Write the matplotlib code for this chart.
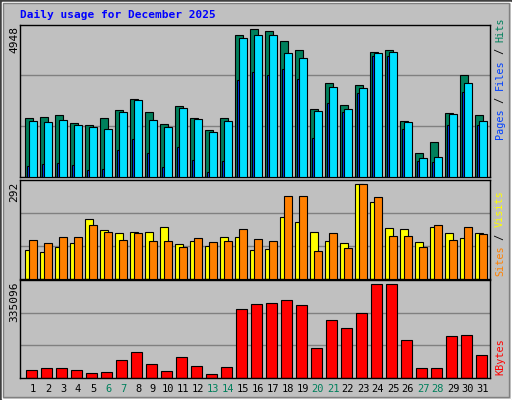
import matplotlib
matplotlib.use("Agg")
import matplotlib.pyplot as plt
from matplotlib.patches import Rectangle
import numpy as np

days = list(range(1, 32))
weekends = [6, 7, 13, 14, 20, 21, 27, 28]
hits = [1979, 2013, 2058, 1810, 1743, 1979, 2249, 2620, 2182, 1777, 2384, 1979, 1574, 1979, 4757, 4948,
        4880, 4543, 4239, 2283, 3160, 2418, 3092, 4172, 4239, 1878, 798, 1169, 2148, 3430, 2080]
files = [1878, 1844, 1912, 1743, 1676, 1608, 2182, 2586, 1912, 1676, 2316, 1945, 1507, 1878, 4644, 4745,
         4745, 4138, 3970, 2215, 3025, 2283, 2991, 4138, 4172, 1844, 630, 663, 2114, 3160, 1878]
pages = [360, 427, 461, 394, 225, 259, 900, 1271, 798, 326, 1001, 562, 157, 529, 3261, 3531,
         3430, 3632, 3295, 1304, 2485, 2182, 2823, 4037, 4037, 1608, 529, 495, 1743, 2856, 1743]
visits = [88, 82, 98, 110, 184, 149, 142, 145, 145, 161, 107, 117, 101, 130, 130, 88,
          91, 190, 174, 145, 117, 110, 292, 238, 155, 152, 114, 158, 142, 126, 142]
sites = [120, 110, 130, 130, 165, 145, 120, 142, 117, 117, 98, 126, 114, 117, 152, 123,
         117, 254, 254, 85, 142, 95, 292, 251, 133, 133, 98, 165, 120, 158, 139]
kbytes = [26906, 34244, 34244, 26906, 15899, 19568, 63596, 92948, 48920, 23237, 74603, 41582, 12230,
          37913, 247046, 265391, 269060, 280067, 261722, 107624, 206687, 177335, 232370, 335096,
          335096, 133307, 34244, 34244, 147983, 151652, 81941]

W, H = 512, 400
fig = plt.figure(figsize=(W/100, H/100), dpi=100)
fig.patch.set_facecolor("#C0C0C0")
# bevel border
fig.patches.append(Rectangle((0, 0), 1, 1, transform=fig.transFigure, fill=False, ec="#404040", lw=2))
fig.patches.append(Rectangle((1.5/W, 1.5/H), 1-3/W, 1-3/H, transform=fig.transFigure, fill=False, ec="white", lw=1))
fig.patches.append(Rectangle((3/W, 3/H), 1-6/W, 1-6/H, transform=fig.transFigure, fill=False, ec="#808080", lw=1))

x = np.arange(31)
L, R = 20, 490
mono = "DejaVu Sans Mono"

def mkax(top, bottom):
    ax = fig.add_axes([L/W, 1-bottom/H, (R-L)/W, (bottom-top)/H])
    ax.set_facecolor("#C0C0C0")
    ax.set_xlim(0, 470/15)
    ax.set_xticks([]); ax.set_yticks([])
    for s in ax.spines.values():
        s.set_color("black"); s.set_linewidth(1)
    return ax

def grid(ax, top):
    for f in (1/3, 2/3):
        ax.axhline(top*f, color="#808080", lw=1, zorder=0)

bkw = dict(align="edge", edgecolor="black", linewidth=0.8)

ax1 = mkax(24.7, 176.8)
ax1.set_ylim(0, 5103); grid(ax1, 5103)
ax1.bar(x+0.353, hits, 0.49, color="#00805C", zorder=2, **bkw)
ax1.bar(x+0.44, pages, 0.16, color="#0040FF", zorder=3, **bkw)
ax1.bar(x+0.62, files, 0.49, color="#00E0FF", zorder=4, **bkw)

ax2 = mkax(180, 278.5)
ax2.set_ylim(0, 305); grid(ax2, 305)
ax2.bar(x+0.353, visits, 0.49, color="#FFFF00", zorder=2, **bkw)
ax2.bar(x+0.62, sites, 0.49, color="#FF8000", zorder=3, **bkw)

ax3 = mkax(280, 377.5)
ax3.set_ylim(0, 350600); grid(ax3, 350600)
ax3.bar(x+0.4, kbytes, 0.71, color="#FF0000", zorder=2, **bkw)

fig.text(20/W, 1-15/H, "Daily usage for December 2025", color="#0000FF",
         fontfamily=mono, fontweight="bold", fontsize=8, va="center", ha="left")

# left max labels
for ytop, lab in ((26, "4948"), (182, "292"), (282, "335096")):
    fig.text(14/W, 1-ytop/H, lab, rotation=90, fontfamily=mono, fontsize=8,
             ha="center", va="top", color="black")

# right legend labels (bottom -> top)
fs = 7.3
adv = 0.6*fs*100/72
def rlabel(ybottom, parts):
    y = ybottom
    for txt, col in parts:
        fig.text(500/W, 1-y/H, txt, rotation=90, fontfamily=mono, fontsize=fs,
                 ha="center", va="bottom", color=col)
        y -= adv*len(txt)

rlabel(139, [("Pages", "#0040FF"), (" / ", "black"), ("Files", "#0040FF"), (" / ", "black"), ("Hits", "#00805C")])
rlabel(276, [("Sites", "#FF8000"), (" / ", "black"), ("Visits", "#FFFF00")])
rlabel(375, [("KBytes", "#FF0000")])

for d in days:
    px = L + 15*(d-1) + 13
    fig.text(px/W, 1-389/H, str(d), fontfamily=mono, fontsize=7.5, ha="center", va="center",
             color="#00805C" if d in weekends else "black")

fig.savefig("out.png", dpi=100, facecolor=fig.get_facecolor())
